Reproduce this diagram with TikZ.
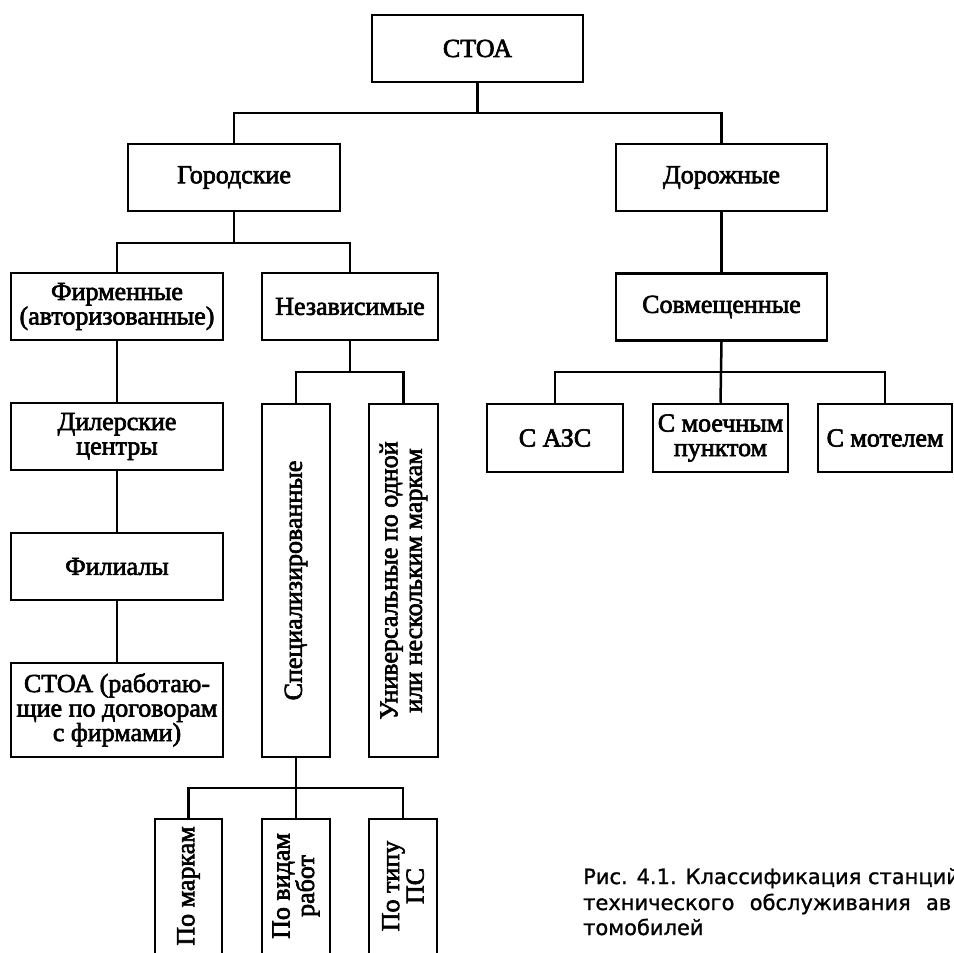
\documentclass[tikz,border=0pt]{standalone}
\usepackage{fontspec}
\setmainfont{Liberation Serif}
\newfontfamily\nodeserif{Liberation Serif}[FakeBold=2.5]
\newfontfamily\capsans{DejaVu Sans}[FakeBold=1]
\tikzset{
  box/.style={draw, line width=2.5pt, inner sep=0pt, align=center, fill=white,
              font=\nodeserif\fontsize{26}{24.5}\selectfont},
  vtext/.style={rotate=90, inner sep=0pt, align=center,
              font=\nodeserif\fontsize{26}{24.5}\selectfont},
  conn/.style={line width=2.5pt},
  captxt/.style={anchor=base west, inner sep=0pt, font=\capsans\fontsize{21}{25}\selectfont}
}
\begin{document}
\begin{tikzpicture}[x=1pt,y=-1pt]
\useasboundingbox (0,0) rectangle (953,953);
% bus levels
\coordinate (b1) at (0,113);
\coordinate (b2) at (0,243);
\coordinate (b3) at (0,372);
\coordinate (b4) at (0,788);
% boxes
\node[box, minimum width=211, minimum height=67] (root) at (477.5,48.5) {СТОА};
\node[box, minimum width=212, minimum height=67] (gor) at (234,177.5) {Городские};
\node[box, minimum width=211, minimum height=67] (dor) at (721.5,177.5) {Дорожные};
\node[box, minimum width=212, minimum height=67] (firm) at (117,306.5) {Фирменные\\(авторизованные)};
\node[box, minimum width=176, minimum height=67] (nez) at (350,306.5) {Независимые};
\node[box, minimum width=211, minimum height=67] (sov) at (721.5,307) {Совмещенные};
\node[box, minimum width=212, minimum height=67] (dil) at (117,436.5) {Дилерские\\центры};
\node[box, minimum width=212, minimum height=67] (fil) at (117,566.5) {Филиалы};
\node[box, minimum width=212, minimum height=94] (stoa) at (117,710) {СТОА (работаю-\\щие по договорам\\с фирмами)};
\node[box, minimum width=68, minimum height=353] (spec) at (296,580.5) {};
\node[vtext] (spect) at (spec.center) {Специализированные};
\node[box, minimum width=69, minimum height=353] (univ) at (403.5,580.5) {};
\node[vtext] (univt) at (univ.center) {Универсальные по одной\\или нескольким маркам};
\node[box, minimum width=136, minimum height=68] (azs) at (555,438) {С АЗС};
\node[box, minimum width=135, minimum height=68] (moy) at (720.5,438) {С моечным\\пунктом};
\node[box, minimum width=134, minimum height=68] (mot) at (885,438) {С мотелем};
\node[box, minimum width=67, minimum height=139] (pm) at (188.5,888.5) {};
\node[vtext] (pmt) at (188.5,886) {По маркам};
\node[box, minimum width=68, minimum height=139] (pv) at (296,888.5) {};
\node[vtext] (pvt) at (296,886) {По видам\\работ};
\node[box, minimum width=68, minimum height=139] (pt) at (403,888.5) {};
\node[vtext] (ptt) at (403,886) {По типу\\ПС};
% connectors
\draw[conn] (root.south) -- (root.south |- b1);
\draw[conn] (gor.north) -- (gor.north |- b1) -| (dor.north);
\draw[conn] (gor.south) -- (gor.south |- b2);
\draw[conn] (firm.north) -- (firm.north |- b2) -| (nez.north);
\draw[conn] (dor.south) -- (sov.north);
\draw[conn] (firm.south) -- (dil.north);
\draw[conn] (dil.south) -- (fil.north);
\draw[conn] (fil.south) -- (stoa.north);
\draw[conn] (nez.south) -- (nez.south |- b3);
\draw[conn] (spec.north) -- (spec.north |- b3) -| (univ.north);
\draw[conn] (sov.south) -- (moy.north);
\draw[conn] (azs.north) -- (azs.north |- b3) -| (mot.north);
\draw[conn] (spec.south) -- (pv.north);
\draw[conn] (pm.north) -- (pm.north |- b4) -| (pt.north);
% caption
\node[captxt] (cap1) at (583,884) {Рис. 4.1. Классификация станций};
\node[captxt] (cap2) at (583,910) {\hbox to 368pt{технического\hfill обслуживания\hfill ав}};
\node[captxt] (cap3) at (583,935) {томобилей};
\end{tikzpicture}
\end{document}
